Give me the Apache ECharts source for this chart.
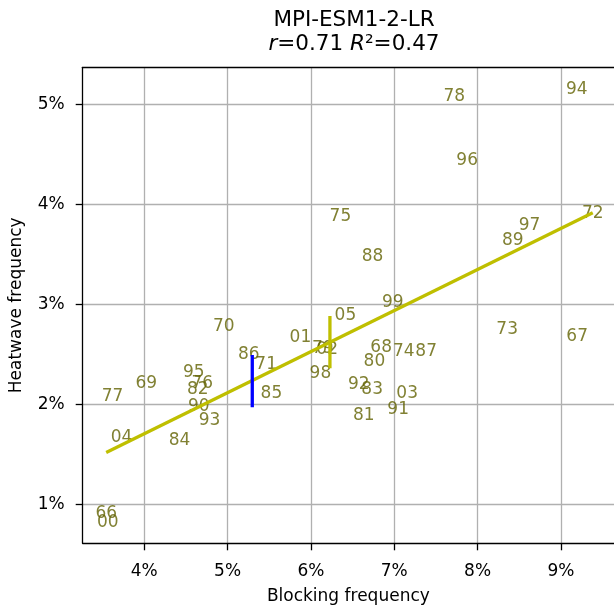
<!DOCTYPE html>
<html>
<head>
<meta charset="utf-8">
<script src="https://cdn.jsdelivr.net/npm/echarts@6/dist/echarts.min.js"></script>
<style>
  html, body { margin: 0; padding: 0; background: #ffffff; }
  #chart { width: 614px; height: 608px; }
</style>
</head>
<body>
<div id="chart"></div>
<script>
// Year labels (1966-2005) placed at blocking vs heatwave frequency (%)
const years = ['66','67','68','69','70','71','72','73','74','75',
               '76','77','78','79','80','81','82','83','84','85',
               '86','87','88','89','90','91','92','93','94','95',
               '96','97','98','99','00','01','02','03','04','05'];
const blocking = [3.543, 9.195, 6.843, 4.023, 4.954, 5.463, 9.382, 8.355, 7.114, 6.354,
                  4.695, 3.618, 7.720, 6.142, 6.762, 6.634, 4.642, 6.735, 4.422, 5.526,
                  5.254, 7.383, 6.739, 8.422, 4.654, 7.047, 6.574, 4.782, 9.190, 4.594,
                  7.875, 8.623, 6.114, 6.982, 3.562, 5.874, 6.195, 7.155, 3.726, 6.414];
const heatwave = [0.918, 2.693, 2.577, 2.217, 2.787, 2.410, 3.920, 2.760, 2.537, 3.893,
                  2.217, 2.093, 5.090, 2.570, 2.437, 1.904, 2.160, 2.160, 1.654, 2.117,
                  2.510, 2.537, 3.493, 3.653, 1.988, 1.960, 2.210, 1.854, 5.160, 2.333,
                  4.452, 3.800, 2.320, 3.027, 0.834, 2.677, 2.560, 2.117, 1.678, 2.903];

// Least-squares fit endpoints
const fitX = [3.543, 9.382];
const fitY = [1.517, 3.914];
// Vertical range markers
const blueX = 5.296;
const blueY = [1.971, 2.493];
const spreadX = 6.228;
const spreadY = [2.360, 2.883];

const xTicks = [4, 5, 6, 7, 8, 9];
const yTicks = [1, 2, 3, 4, 5];
const xRange = [3.261, 9.637];
const yRange = [0.610, 5.369];

const FONT = 'DejaVu Sans';
const labelColor = '#626200';
const fitColor = '#bfbf00';

const chart = echarts.init(document.getElementById('chart'), null, { renderer: 'canvas' });

const axisCommon = {
  type: 'value',
  axisLine: { show: true, onZero: false, lineStyle: { color: '#000000', width: 1.3 } },
  axisTick: { show: true, inside: false, length: 7, lineStyle: { color: '#000000', width: 1.3 } },
  splitLine: { show: true, lineStyle: { color: '#b0b0b0', width: 1.3 } },
  nameTextStyle: { fontFamily: FONT, fontSize: 17, color: '#000000' }
};

const option = {
  animation: false,
  backgroundColor: '#ffffff',
  title: {
    text: 'MPI-ESM1-2-LR\n{i|r}=0.71 {i|R}²=0.47',
    left: 349,
    top: 3,
    textAlign: 'center',
    textStyle: {
      fontFamily: FONT, fontSize: 21.5, fontWeight: 'normal', color: '#000000', lineHeight: 24,
      rich: {
        i: { fontFamily: FONT, fontSize: 21.5, fontStyle: 'italic', color: '#000000', lineHeight: 24 }
      }
    }
  },
  grid: { left: 82.7, right: 0, top: 67.3, bottom: 64.7, containLabel: false, outerBoundsMode: 'none' },
  xAxis: [
    Object.assign({}, axisCommon, {
      min: xRange[0], max: xRange[1],
      name: 'Blocking frequency', nameLocation: 'middle', nameGap: 45,
      axisTick: Object.assign({}, axisCommon.axisTick, { customValues: xTicks }),
      axisLabel: { customValues: xTicks, formatter: v => v + '%', margin: 20,
                   fontFamily: FONT, fontSize: 17, color: '#000000' }
    }),
    {
      type: 'value', position: 'top', min: xRange[0], max: xRange[1],
      axisLine: { show: true, onZero: false, lineStyle: { color: '#000000', width: 1.3 } },
      axisTick: { show: false }, axisLabel: { show: false }, splitLine: { show: false }
    }
  ],
  yAxis: Object.assign({}, axisCommon, {
    min: yRange[0], max: yRange[1],
    name: 'Heatwave frequency', nameLocation: 'middle', nameGap: 58,
    axisTick: Object.assign({}, axisCommon.axisTick, { customValues: yTicks }),
    axisLabel: { customValues: yTicks, formatter: v => v + '%', margin: 18,
                 fontFamily: FONT, fontSize: 17, color: '#000000' }
  }),
  series: [
    {
      type: 'scatter',
      z: 2,
      symbol: 'circle',
      symbolSize: 1,
      itemStyle: { color: 'rgba(0,0,0,0)' },
      silent: true,
      label: {
        show: true, position: 'inside', align: 'center', verticalAlign: 'middle',
        offset: [0, 1.5],
        formatter: p => p.value[2],
        fontFamily: FONT, fontSize: 17, color: labelColor
      },
      data: years.map((y, i) => [blocking[i], heatwave[i], y])
    },
    {
      type: 'line', z: 3, silent: true, symbol: 'none',
      lineStyle: { color: fitColor, width: 3.3 },
      data: [[fitX[0], fitY[0]], [fitX[1], fitY[1]]]
    },
    {
      type: 'line', z: 4, silent: true, symbol: 'none',
      lineStyle: { color: fitColor, width: 3.3 },
      data: [[spreadX, spreadY[0]], [spreadX, spreadY[1]]]
    },
    {
      type: 'line', z: 4, silent: true, symbol: 'none',
      lineStyle: { color: '#0000ff', width: 3.3 },
      data: [[blueX, blueY[0]], [blueX, blueY[1]]]
    }
  ]
};

chart.setOption(option);
</script>
</body>
</html>
